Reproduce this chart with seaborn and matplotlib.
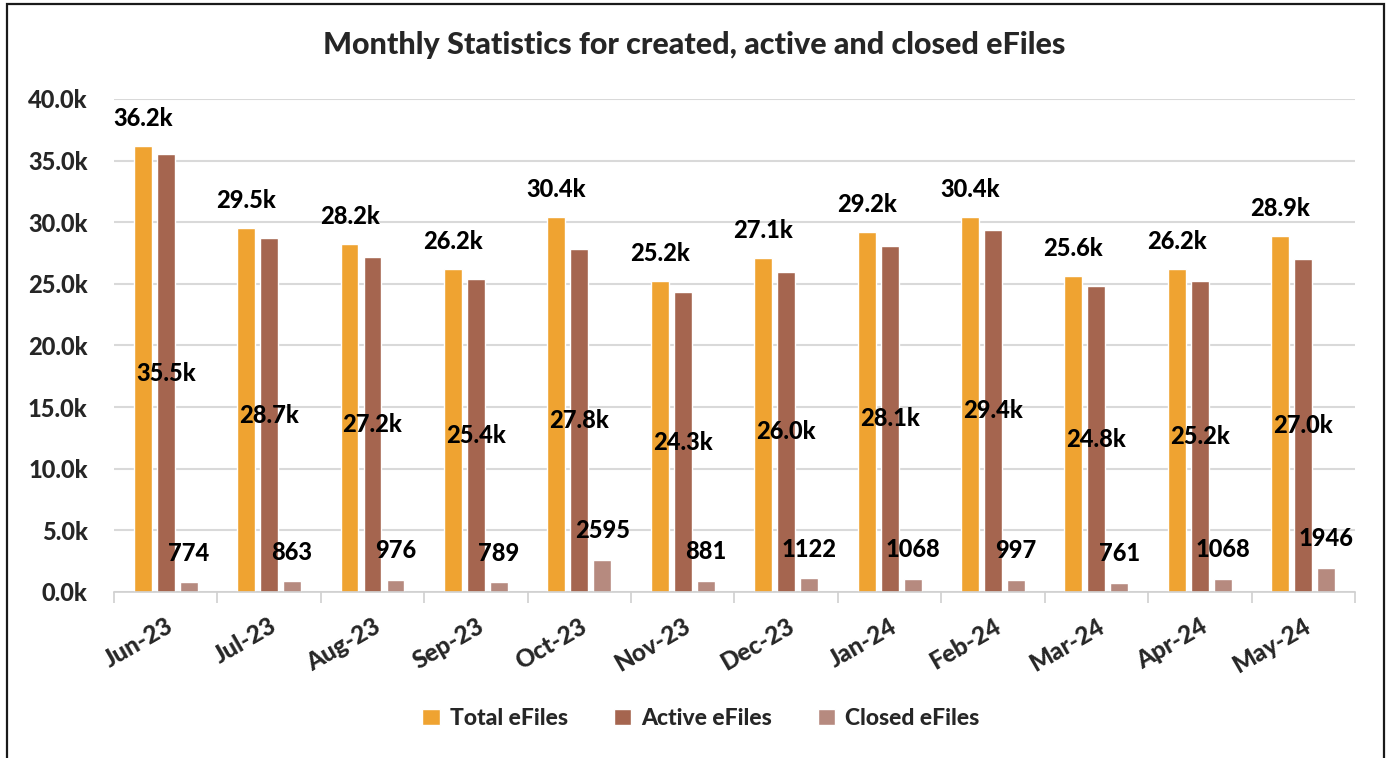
import seaborn as sns
import pandas as pd
import matplotlib.pyplot as plt
from matplotlib.patches import Rectangle

# Monthly eFile counts
months = ['Jun-23', 'Jul-23', 'Aug-23', 'Sep-23', 'Oct-23', 'Nov-23',
          'Dec-23', 'Jan-24', 'Feb-24', 'Mar-24', 'Apr-24', 'May-24']
total = [36200, 29500, 28200, 26200, 30400, 25200, 27100, 29200, 30400, 25600, 26200, 28900]
active = [35500, 28700, 27200, 25400, 27800, 24300, 26000, 28100, 29400, 24800, 25200, 27000]
closed = [774, 863, 976, 789, 2595, 881, 1122, 1068, 997, 761, 1068, 1946]
series = ['Total eFiles', 'Active eFiles', 'Closed eFiles']
colors = ['#EFA331', '#A5654F', '#B68A7F']

data = pd.DataFrame({
    'Month': months * 3,
    'Count': total + active + closed,
    'Series': [s for s in series for _ in months],
})

sns.set_theme(style="white")
plt.rcParams['font.family'] = ['Lato', 'DejaVu Sans']
W = 'black'
plt.rcParams['font.weight'] = W

fig = plt.figure(figsize=(13.88, 7.58), dpi=100)
ax = fig.add_axes([0.0821, 0.219, 0.8941, 0.6504])

sns.barplot(data=data, x='Month', y='Count', hue='Series', palette=colors,
            width=0.667, gap=0.22, ax=ax, saturation=1, legend=True)

# data labels
n = len(months)
for i, cont in enumerate(ax.containers):
    for bar, val in zip(cont, [total, active, closed][i]):
        cx = bar.get_x() + bar.get_width() / 2
        h = bar.get_height()
        if i == 0:
            ax.annotate(f'{val/1000:.1f}k', (cx, h), xytext=(0, 20), textcoords='offset points',
                        ha='center', va='center', fontsize=17, fontweight=W, color='black')
        elif i == 1:
            ax.text(cx, h / 2, f'{val/1000:.1f}k', ha='center', va='center',
                    fontsize=17, fontweight=W, color='black')
        else:
            ax.annotate(f'{val}', (cx, h), xytext=(0, 21), textcoords='offset points',
                        ha='center', va='center', fontsize=17, fontweight=W, color='black')

ax.set_ylim(0, 40000)
ax.set_xlim(-0.5, n - 0.5)
ax.set_yticks(range(0, 40001, 5000))
ax.set_yticklabels([f'{v/1000:.1f}k' for v in range(0, 40001, 5000)], fontsize=17, fontweight=W)
ax.yaxis.grid(True, color='#D9D9D9', linewidth=1.5)
ax.set_axisbelow(True)
ax.tick_params(axis='y', length=0, pad=19)

# category separators on x axis
ax.set_xticks([i - 0.5 for i in range(n + 1)], minor=True)
ax.tick_params(axis='x', which='minor', length=8, width=1.2, color='#D0D0D0', bottom=True)
ax.tick_params(axis='x', which='major', length=0, pad=16)
ax.set_xticks(range(n))
ax.set_xticklabels(months, rotation=30, ha='right', rotation_mode='anchor',
                   fontsize=17.5, fontweight=W)

for side in ['left', 'right', 'top']:
    ax.spines[side].set_visible(False)
ax.spines['bottom'].set_color('#D0D0D0')
ax.spines['bottom'].set_linewidth(1.2)
ax.set_xlabel('')
ax.set_ylabel('')

fig.text(0.5, 0.94, 'Monthly Statistics for created, active and closed eFiles',
         ha='center', va='center', fontsize=22, fontweight=W)

handles, labels = ax.get_legend_handles_labels()
ax.legend_.remove()
fig.legend(handles, labels, loc='center', bbox_to_anchor=(0.505, 0.052), ncol=3,
           frameon=False, handlelength=0.75, handleheight=0.75,
           handletextpad=0.45, columnspacing=2.0, prop={'weight': W, 'size': 16.5})

# outer chart border
fig.patches.append(Rectangle((7 / 1388, -0.05), 1377 / 1388, 1.045, transform=fig.transFigure,
                             fill=False, edgecolor='#1A1A1A', linewidth=1.6))

fig.savefig('out.png', dpi=100, facecolor='white')
